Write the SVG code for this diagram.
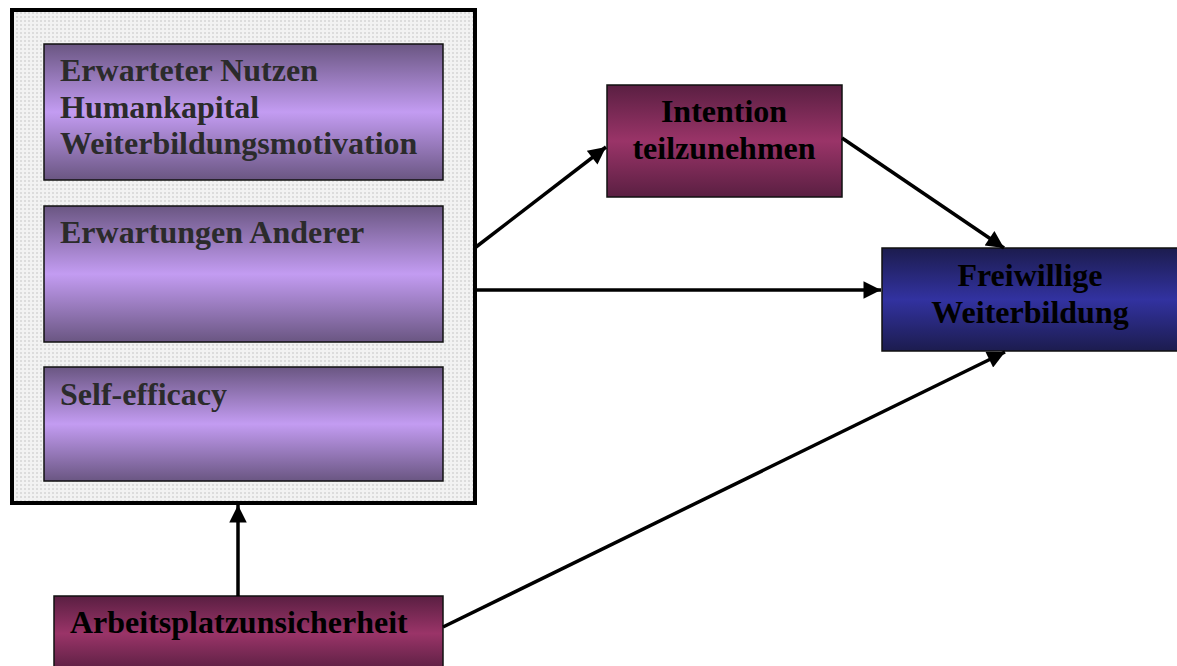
<svg xmlns="http://www.w3.org/2000/svg" width="1177" height="666" viewBox="0 0 1177 666">
<defs>
<linearGradient id="gPurple" x1="0" y1="0" x2="0" y2="1">
<stop offset="0" stop-color="#6a5682"/>
<stop offset="0.5" stop-color="#c39cf2"/>
<stop offset="1" stop-color="#6a5682"/>
</linearGradient>
<linearGradient id="gMaroon" x1="0" y1="0" x2="0" y2="1">
<stop offset="0" stop-color="#5a1f42"/>
<stop offset="0.5" stop-color="#9a3468"/>
<stop offset="1" stop-color="#5a1f42"/>
</linearGradient>
<linearGradient id="gBlue" x1="0" y1="0" x2="0" y2="1">
<stop offset="0" stop-color="#1c1c4e"/>
<stop offset="0.5" stop-color="#3232a0"/>
<stop offset="1" stop-color="#1c1c4e"/>
</linearGradient>
<pattern id="grid" width="4" height="4" patternUnits="userSpaceOnUse">
<rect width="4" height="4" fill="#f2f2f2"/>
<rect width="2" height="2" fill="#dcdcdc"/>
</pattern>
<marker id="ah" viewBox="0 0 10 10" refX="10" refY="5" markerWidth="6" markerHeight="5" markerUnits="strokeWidth" orient="auto">
<path d="M0,0 L10,5 L0,10 z" fill="#000"/>
</marker>
</defs>
<style>
.t{font-family:"Liberation Serif","Times New Roman",serif;font-weight:bold;font-size:32px}
.in{fill:#2b2b2b}
.dk{fill:#000}
.box{stroke:#111;stroke-width:1.5}
.con{stroke:#000;stroke-width:3.5;fill:none;marker-end:url(#ah)}
</style>
<rect width="1177" height="666" fill="#fff"/>
<g id="outer">
<rect x="12" y="10" width="463" height="493" fill="url(#grid)" stroke="#000" stroke-width="4"/>
</g>
<g id="nutzen">
<rect class="box" x="44" y="44" width="399" height="136" fill="url(#gPurple)"/>
<text class="t in" x="60" y="81">Erwarteter Nutzen</text>
<text class="t in" x="60" y="118">Humankapital</text>
<text class="t in" x="60" y="154">Weiterbildungsmotivation</text>
</g>
<g id="anderer">
<rect class="box" x="44" y="206" width="399" height="136" fill="url(#gPurple)"/>
<text class="t in" x="60" y="243">Erwartungen Anderer</text>
</g>
<g id="selfefficacy">
<rect class="box" x="44" y="367" width="399" height="114" fill="url(#gPurple)"/>
<text class="t in" x="60" y="405">Self-efficacy</text>
</g>
<g id="intention">
<rect class="box" x="607" y="85" width="235" height="112" fill="url(#gMaroon)"/>
<text class="t dk" x="724" y="122" text-anchor="middle">Intention</text>
<text class="t dk" x="724" y="159" text-anchor="middle">teilzunehmen</text>
</g>
<g id="freiwillige">
<rect class="box" x="882" y="248" width="300" height="103" fill="url(#gBlue)"/>
<text class="t dk" x="1030" y="286" text-anchor="middle">Freiwillige</text>
<text class="t dk" x="1030" y="323" text-anchor="middle">Weiterbildung</text>
</g>
<g id="arbeitsplatz">
<rect class="box" x="54" y="596" width="389" height="75" fill="url(#gMaroon)"/>
<text class="t dk" x="70" y="633">Arbeitsplatzunsicherheit</text>
</g>
<g id="connectors">
<line class="con" x1="476" y1="247" x2="606" y2="147"/>
<line class="con" x1="842" y1="138" x2="1004" y2="248"/>
<line class="con" x1="476" y1="290" x2="881" y2="290"/>
<line class="con" x1="443" y1="627" x2="1005" y2="352"/>
<line class="con" x1="238" y1="596" x2="238" y2="505"/>
</g>
</svg>
